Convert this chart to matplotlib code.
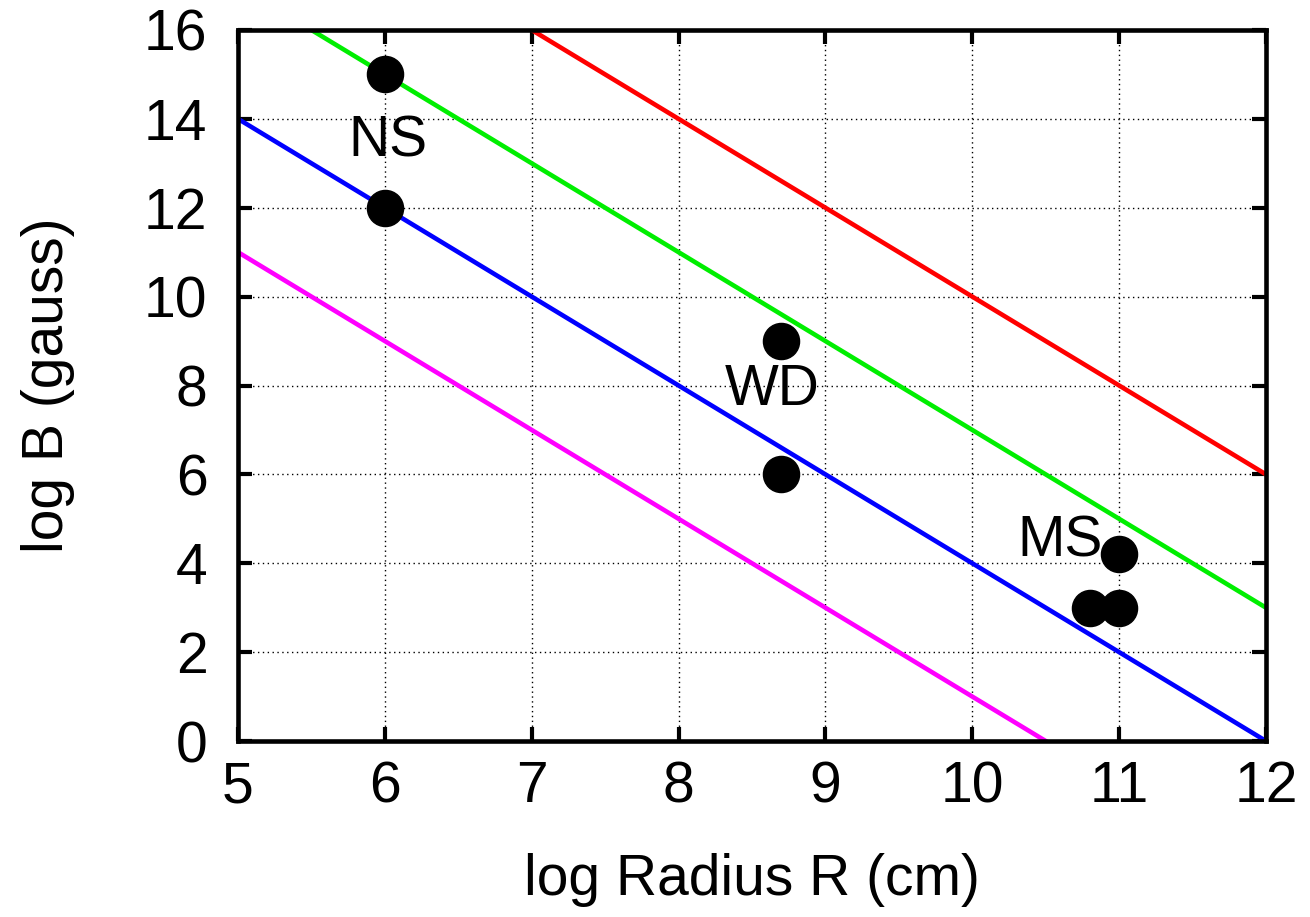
import numpy as np
import matplotlib.pyplot as plt

# log B = c - 2 log R lines
r_grid = np.array([5.0, 12.0])
intercepts = [30, 27, 24, 21]
line_colors = ['#ff0000', '#00ee00', '#0000ff', '#ff00ff']

# objects: neutron stars, white dwarfs, main sequence stars
obj_r = [6.0, 6.0, 8.7, 8.7, 11.0, 10.8, 11.0]
obj_b = [15.0, 12.0, 9.0, 6.0, 4.2, 3.0, 3.0]

label_text = ['NS', 'WD', 'MS']
label_r = [6.02, 8.64, 10.6]
label_b = [13.5, 7.9, 4.5]

plt.rcParams['font.family'] = ['Liberation Sans', 'DejaVu Sans']

fig = plt.figure(figsize=(13.1, 9.17), dpi=100)
ax = fig.add_axes([0.1817, 0.1919, 0.7847, 0.7754])

for c, col in zip(intercepts, line_colors):
    ax.plot(r_grid, c - 2 * r_grid, color=col, lw=3.3, zorder=2)

ax.plot(obj_r, obj_b, 'o', color='black', ms=26, zorder=3)

for t, x, y in zip(label_text, label_r, label_b):
    ax.text(x, y, t, fontsize=41, ha='center', va='center', zorder=4)

ax.set_xlim(5, 12)
ax.set_ylim(0, 16)
ax.set_xticks(range(5, 13))
ax.set_yticks(range(0, 17, 2))
ax.grid(True, color='black', linestyle=(0, (1, 2.5)), lw=1)
ax.tick_params(direction='in', length=10, width=3, top=True, right=True,
               labelsize=41)
ax.tick_params(axis='x', pad=14)
ax.tick_params(axis='y', pad=22)
for s in ax.spines.values():
    s.set_linewidth(3.3)

ax.set_xlabel('log Radius R (cm)', fontsize=41, labelpad=28)
ax.set_ylabel('log B (gauss)', fontsize=41, labelpad=50)

fig.savefig('out.png', dpi=100)
